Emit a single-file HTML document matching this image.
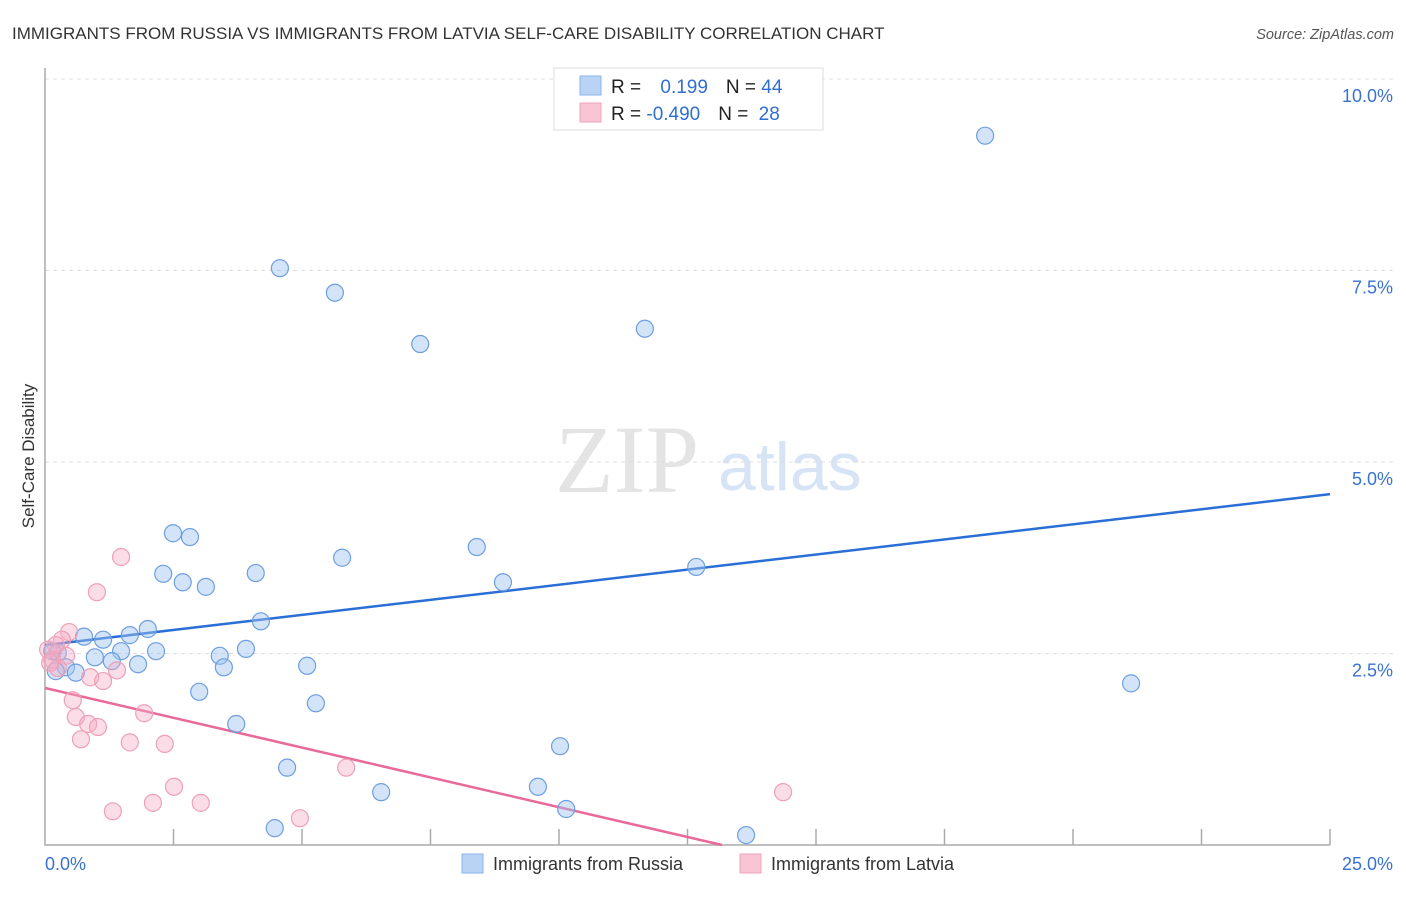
<!DOCTYPE html>
<html><head><meta charset="utf-8"><style>
body{margin:0;background:#fff;font-family:"Liberation Sans",sans-serif}
</style></head><body>
<svg width="1406" height="892" xmlns="http://www.w3.org/2000/svg" id="chart" style="font-family:'Liberation Sans',sans-serif">
<text x="12" y="39" font-size="17" fill="#333">IMMIGRANTS FROM RUSSIA VS IMMIGRANTS FROM LATVIA SELF-CARE DISABILITY CORRELATION CHART</text>
<text x="1394" y="39" font-size="14.5" fill="#555" font-style="italic" text-anchor="end">Source: ZipAtlas.com</text>
<text x="555" y="492" font-size="96" fill="#e4e4e4" font-family="'Liberation Serif',serif">ZIP</text>
<text x="718" y="490" font-size="68" fill="#d6e4f6">atlas</text>
<text transform="translate(34,456) rotate(-90)" font-size="17" fill="#333" text-anchor="middle">Self-Care Disability</text>
<g id="grid"></g><g id="axes"></g><g id="trends"></g><g id="pts"></g>
<g>
<rect x="554" y="68" width="269" height="62" fill="#fff" stroke="#ddd"/>
<rect x="580" y="76" width="21" height="19" fill="#b9d3f5" stroke="#8ab4ea"/>
<rect x="580" y="103" width="21" height="19" fill="#f9c4d4" stroke="#f0a3bb"/>
<text x="611" y="93" font-size="19" fill="#222">R = <tspan fill="#2f6fd0" dx="14">0.199</tspan><tspan dx="18" fill="#222">N = </tspan><tspan fill="#2f6fd0">44</tspan></text>
<text x="611" y="120" font-size="19" fill="#222">R = <tspan fill="#2f6fd0">-0.490</tspan><tspan dx="18" fill="#222">N = </tspan><tspan fill="#2f6fd0" dx="5">28</tspan></text>
</g>
<g>
<rect x="462" y="854" width="21" height="19" fill="#b9d3f5" stroke="#8ab4ea"/>
<text x="493" y="870" font-size="18" fill="#333">Immigrants from Russia</text>
<rect x="740" y="854" width="21" height="19" fill="#f9c4d4" stroke="#f0a3bb"/>
<text x="771" y="870" font-size="18" fill="#333">Immigrants from Latvia</text>
</g>
</svg>
<script>
const russiaX=[18.29,4.57,5.64,7.30,11.67,2.49,2.82,5.78,8.40,2.30,2.68,3.13,4.10,8.91,12.67,4.20,2.00,0.76,1.13,1.65,0.97,1.48,2.16,1.30,1.81,3.40,3.91,3.48,5.10,0.25,0.14,0.41,0.60,0.21,3.00,5.27,3.72,21.13,10.02,4.71,6.54,9.59,10.14,4.47,13.64];
const russiaY=[9.26,7.53,7.21,6.54,6.74,4.07,4.02,3.75,3.89,3.54,3.43,3.37,3.55,3.43,3.63,2.92,2.82,2.72,2.68,2.74,2.45,2.53,2.53,2.40,2.36,2.47,2.56,2.32,2.34,2.51,2.53,2.32,2.25,2.27,2.00,1.85,1.58,2.11,1.29,1.01,0.69,0.76,0.47,0.22,0.13];
const latviaX=[1.48,1.01,0.47,0.33,0.41,0.06,0.14,0.88,1.13,1.40,0.25,0.54,0.60,0.84,1.03,0.70,1.93,1.65,2.33,5.86,2.51,3.03,2.10,1.32,4.96,14.36,0.10,0.21];
const latviaY=[3.76,3.30,2.78,2.68,2.47,2.55,2.42,2.19,2.14,2.28,2.31,1.89,1.67,1.58,1.54,1.38,1.72,1.34,1.32,1.01,0.76,0.55,0.55,0.44,0.35,0.69,2.38,2.61];
const russiaTrend=[2.61,4.58];
const latviaTrend=[2.05,0];
const latviaTrendEndX=13.17;
const yTicks=[2.5,5.0,7.5,10.0];
const xTickCount=[0,2.5,5,7.5,10,12.5,15,17.5,20,22.5,25];
const NS='http://www.w3.org/2000/svg';
const sx=v=>45+v*(1285/25), sy=v=>845-v*76.6;
function mk(t,a,p){const e=document.createElementNS(NS,t);for(const k in a)e.setAttribute(k,a[k]);p.appendChild(e);return e;}
const grid=document.getElementById('grid'),axes=document.getElementById('axes'),tr=document.getElementById('trends'),pts=document.getElementById('pts');
yTicks.forEach(v=>{const l=mk('line',{x1:45,x2:1393,y1:sy(v),y2:sy(v),stroke:'#ddd','stroke-dasharray':'4,4'},grid);


const t=mk('text',{x:1393,y:sy(v)+23,'font-size':18,fill:'#3a72d0','text-anchor':'end'},axes);t.textContent=v.toFixed(1)+'%';

});
const ax=mk('path',{d:'M45,68 V845 H1330',stroke:'#aaa',fill:'none','stroke-width':1.5},axes);


xTickCount.slice(1).forEach(v=>{const l=mk('line',{x1:sx(v),x2:sx(v),y1:829,y2:845,stroke:'#aaa','stroke-width':1.5},axes);

});
const x0=mk('text',{x:45,y:870,'font-size':18,fill:'#3a72d0'},axes);x0.textContent='0.0%';


const x1=mk('text',{x:1393,y:870,'font-size':18,fill:'#3a72d0','text-anchor':'end'},axes);x1.textContent='25.0%';


function dots(X,Y,fill,stroke,name){X.forEach((x,i)=>{const c=mk('circle',{cx:sx(x),cy:sy(Y[i]),r:8.5,fill:fill,stroke:stroke,'stroke-width':1.2},pts);

});}
dots(russiaX,russiaY,'rgba(160,195,240,0.45)','#6d9fe0','russia-point');
dots(latviaX,latviaY,'rgba(245,170,195,0.4)','#eea0b8','latvia-point');
const lb=mk('line',{x1:sx(0),y1:sy(russiaTrend[0]),x2:sx(25),y2:sy(russiaTrend[1]),stroke:'#2a6fd6','stroke-width':2.5},tr);


const lp=mk('line',{x1:sx(0),y1:sy(latviaTrend[0]),x2:sx(latviaTrendEndX),y2:sy(latviaTrend[1]),stroke:'#e8699a','stroke-width':2.5},tr);


</script>
</body></html>
